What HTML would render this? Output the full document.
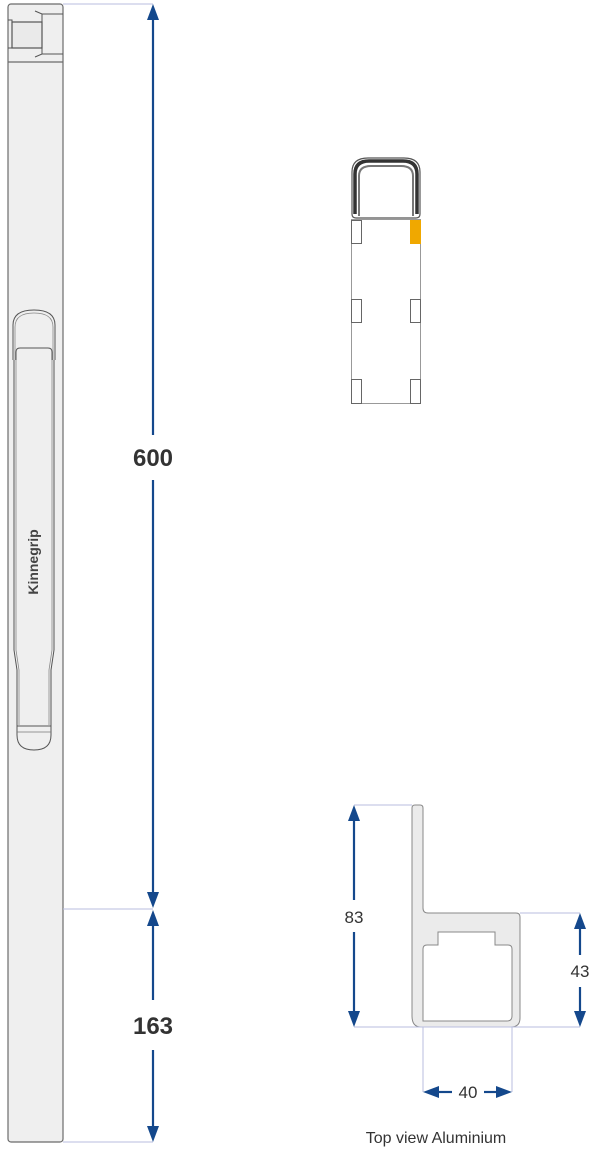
<!DOCTYPE html>
<html><head><meta charset="utf-8">
<style>
html,body{margin:0;padding:0;background:#fff;}
svg{display:block;}
text{font-family:"Liberation Sans",Arial,sans-serif;}
</style></head>
<body>
<svg width="600" height="1149" viewBox="0 0 600 1149" xmlns="http://www.w3.org/2000/svg">
<!-- left panel -->
<rect x="8" y="4" width="55" height="1138" rx="3" fill="#efefef" stroke="#6b6b6b" stroke-width="1.2"/>
<line x1="8" y1="62" x2="63" y2="62" stroke="#6b6b6b" stroke-width="1.2"/>
<path d="M8 20 H12 V48 H8" fill="none" stroke="#555" stroke-width="1"/>
<rect x="12" y="22" width="30" height="26" fill="#eaeaea" stroke="#555" stroke-width="1.2"/>
<path d="M35 11 L42 14 H63 M35 57 L42 54 H63 M42 14 V54" fill="none" stroke="#555" stroke-width="1"/>
<!-- handle -->
<path d="M13 360 V325 Q13 310 34 310 Q55 310 55 325 V360" fill="none" stroke="#555" stroke-width="1"/>
<path d="M15 360 V327 Q15 313 34 313 Q53 313 53 327 V360" fill="none" stroke="#888" stroke-width="0.8"/>
<path d="M16 360 V352 Q16 348 20 348 H48 Q52 348 52 352 V360" fill="none" stroke="#555" stroke-width="1"/>
<path d="M14 360 V650 L17 670 V735 Q17 750 34 750 Q51 750 51 735 V670 L54 650 V360" fill="none" stroke="#555" stroke-width="1"/>
<path d="M16 360 V650 L19 670 V725 M52 360 V650 L49 670 V725" fill="none" stroke="#888" stroke-width="0.8"/>
<line x1="17" y1="726" x2="51" y2="726" stroke="#555" stroke-width="1"/>
<line x1="17" y1="732" x2="51" y2="732" stroke="#777" stroke-width="0.8"/>
<text transform="translate(38,562) rotate(-90)" text-anchor="middle" font-size="14" font-weight="bold" fill="#444">Kinnegrip</text>
<!-- extension lines -->
<g stroke="#b8bedf" stroke-width="1">
<line x1="63" y1="4" x2="153" y2="4"/>
<line x1="63" y1="909" x2="153" y2="909"/>
<line x1="63" y1="1142" x2="153" y2="1142"/>
</g>
<g stroke="#14488c" stroke-width="2.2">
<line x1="153" y1="16" x2="153" y2="435"/>
<line x1="153" y1="480" x2="153" y2="895"/>
<line x1="153" y1="922" x2="153" y2="1000"/>
<line x1="153" y1="1050" x2="153" y2="1128"/>
</g>
<g fill="#14488c">
<polygon points="153,4 147,20 159,20"/>
<polygon points="153,908 147,892 159,892"/>
<polygon points="153,910 147,926 159,926"/>
<polygon points="153,1142 147,1126 159,1126"/>
</g>
<text x="153" y="466" text-anchor="middle" font-size="24" font-weight="bold" fill="#333">600</text>
<text x="153" y="1034" text-anchor="middle" font-size="24" font-weight="bold" fill="#333">163</text>
<!-- top view -->
<path d="M352 214 V172 Q352 158 368 158 H404 Q420 158 420 172 V214 Q420 218 416 218 H356 Q352 218 352 214 Z" fill="#fff" stroke="#555" stroke-width="1.2"/>
<path d="M355 214 V174 Q355 161 369 161 H403 Q417 161 417 174 V214" fill="none" stroke="#333" stroke-width="3.5"/>
<path d="M359 216 V176 Q359 166 371 166 H401 Q413 166 413 176 V216" fill="none" stroke="#777" stroke-width="2"/>
<rect x="351.5" y="219.5" width="69" height="184" fill="#fff" stroke="#999" stroke-width="1"/>
<g fill="#fff" stroke="#666" stroke-width="1">
<rect x="351.5" y="220.5" width="10" height="23"/>
<rect x="351.5" y="299.5" width="10" height="23"/>
<rect x="351.5" y="379.5" width="10" height="24"/>
<rect x="410.5" y="299.5" width="10" height="23"/>
<rect x="410.5" y="379.5" width="10" height="24"/>
</g>
<rect x="410" y="220" width="11" height="24" fill="#f0a800"/>
<!-- profile -->
<path d="M412 1016 V808 Q412 805 415 805 H420 Q423 805 423 808 V908 Q423 913 428 913 H516 Q520 913 520 917 V1018 Q520 1027 511 1027 H421 Q412 1027 412 1016 Z" fill="#ebebeb" stroke="#888" stroke-width="1"/>
<path d="M423 1021 V949 Q423 945 427 945 H438 V932 H495 V945 H508 Q512 945 512 949 V1016 Q512 1021 507 1021 Z" fill="#fff" stroke="#888" stroke-width="1"/>
<g stroke="#b8bedf" stroke-width="1">
<line x1="354" y1="805" x2="412" y2="805"/>
<line x1="354" y1="1027" x2="580" y2="1027"/>
<line x1="520" y1="913" x2="580" y2="913"/>
<line x1="423" y1="1027" x2="423" y2="1092"/>
<line x1="512" y1="1027" x2="512" y2="1092"/>
</g>
<g stroke="#14488c" stroke-width="2.2">
<line x1="354" y1="818" x2="354" y2="900"/>
<line x1="354" y1="932" x2="354" y2="1014"/>
<line x1="580" y1="926" x2="580" y2="955"/>
<line x1="580" y1="987" x2="580" y2="1014"/>
<line x1="436" y1="1092" x2="452" y2="1092"/>
<line x1="484" y1="1092" x2="499" y2="1092"/>
</g>
<g fill="#14488c">
<polygon points="354,805 348,821 360,821"/>
<polygon points="354,1027 348,1011 360,1011"/>
<polygon points="580,913 574,929 586,929"/>
<polygon points="580,1027 574,1011 586,1011"/>
<polygon points="423,1092 439,1086 439,1098"/>
<polygon points="512,1092 496,1086 496,1098"/>
</g>
<text x="354" y="923" text-anchor="middle" font-size="17" fill="#333">83</text>
<text x="580" y="977" text-anchor="middle" font-size="17" fill="#333">43</text>
<text x="468" y="1098" text-anchor="middle" font-size="17" fill="#333">40</text>
<text x="436" y="1143" text-anchor="middle" font-size="16" fill="#333">Top view Aluminium</text>
</svg>
</body></html>
